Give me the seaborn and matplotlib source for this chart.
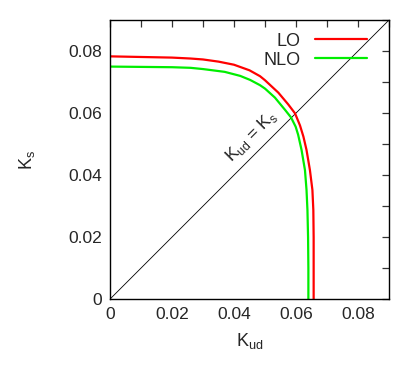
import matplotlib
matplotlib.use("Agg")
import matplotlib.pyplot as plt
import seaborn as sns
import pandas as pd
from matplotlib.ticker import MultipleLocator, FuncFormatter

# Data
lo_x = [0.0, 0.010, 0.020, 0.026, 0.030, 0.035, 0.040, 0.045, 0.0484, 0.050,
        0.0543, 0.0575, 0.0597, 0.0613, 0.0624, 0.0634, 0.0645, 0.0653, 0.0656,
        0.0657, 0.0657, 0.0657]
lo_y = [0.0783, 0.0781, 0.0779, 0.0776, 0.0773, 0.0766, 0.0756, 0.0738, 0.0719, 0.0706,
        0.0666, 0.0628, 0.0599, 0.0560, 0.0524, 0.0481, 0.0416, 0.0352, 0.0287,
        0.0200, 0.0100, 0.0]
nlo_x = [0.0, 0.010, 0.020, 0.026, 0.030, 0.037, 0.042, 0.0452, 0.0484, 0.050,
         0.0532, 0.0565, 0.0584, 0.0599, 0.0607, 0.0618, 0.0629, 0.0634, 0.0637,
         0.0639, 0.0640, 0.0640]
nlo_y = [0.0750, 0.0749, 0.0748, 0.0746, 0.0742, 0.0733, 0.0720, 0.0707, 0.0690, 0.0679,
         0.0650, 0.0610, 0.0586, 0.0556, 0.0530, 0.0481, 0.0416, 0.0352, 0.0287,
         0.0200, 0.0100, 0.0]
diag = [0.0, 0.09]
x_ticks = [0, 0.02, 0.04, 0.06, 0.08]
y_ticks = [0, 0.02, 0.04, 0.06, 0.08]

sns.set_style("white")
plt.rcParams['font.family'] = ['Liberation Sans', 'DejaVu Sans']

fig = plt.figure(figsize=(4.09, 3.72), dpi=100)
ax = fig.add_axes([0.269, 0.196, 0.682, 0.750])

ax.plot(diag, diag, color='black', lw=0.6)
df_lo = pd.DataFrame({'x': lo_x, 'y': lo_y})
df_nlo = pd.DataFrame({'x': nlo_x, 'y': nlo_y})
sns.lineplot(data=df_lo, x='x', y='y', sort=False, estimator=None, color='#ff0000', lw=1.6,
             ax=ax, label='LO', solid_joinstyle='round')
sns.lineplot(data=df_nlo, x='x', y='y', sort=False, estimator=None, color='#00ee00', lw=1.6,
             ax=ax, label='NLO', solid_joinstyle='round')

ax.set_xlim(0, 0.09)
ax.set_ylim(0, 0.09)
ax.set_xticks(x_ticks)
ax.set_yticks(y_ticks)
ax.xaxis.set_minor_locator(MultipleLocator(0.01))
ax.yaxis.set_minor_locator(MultipleLocator(0.01))
fmt = FuncFormatter(lambda v, p: '0' if abs(v) < 1e-12 else '%.2f' % v)
ax.xaxis.set_major_formatter(fmt)
ax.yaxis.set_major_formatter(fmt)
ax.tick_params(which='both', direction='in', top=True, right=True, length=5, width=0.9,
               color='#333333', labelsize=12.5, pad=6)
for s in ax.spines.values():
    s.set_color('black')
    s.set_linewidth(1.0)

ax.set_xlabel(r'K$_{\mathregular{ud}}$', fontsize=13, labelpad=6)
ax.set_ylabel(r'K$_{\mathregular{s}}$', fontsize=13, labelpad=22)

ax.text(0.0455, 0.0525, r'K$_{\mathregular{ud}}$ = K$_{\mathregular{s}}$', rotation=45,
        ha='center', va='center', fontsize=12.5, rotation_mode='anchor')

leg = ax.legend(loc='upper right', frameon=False, markerfirst=False, fontsize=13,
                handlelength=2.9, handletextpad=0.8, labelspacing=0.1,
                borderaxespad=0.3, bbox_to_anchor=(0.968, 1.0))

fig.savefig('out.png', dpi=100)
